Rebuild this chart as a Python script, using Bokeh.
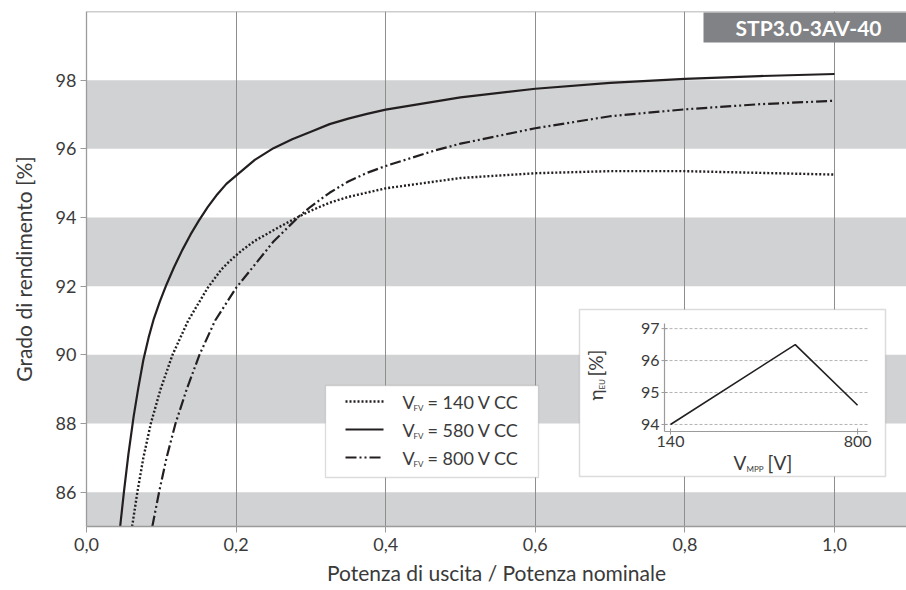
import math
from bokeh.plotting import figure
from bokeh.models import Range1d, FixedTicker, BoxAnnotation, Label, Span
from bokeh.core.properties import value
from bokeh.embed import file_html
from bokeh.resources import INLINE

# ---------------- data ----------------
x_ticks = [0.0, 0.2, 0.4, 0.6, 0.8, 1.0]
x_tick_labels = ["0,0", "0,2", "0,4", "0,6", "0,8", "1,0"]
y_ticks = [86, 88, 90, 92, 94, 96, 98]
y_tick_labels = ["86", "88", "90", "92", "94", "96", "98"]
band_bottoms = [84, 88, 92, 96]
band_tops = [86, 90, 94, 98]

# V_FV = 140 V (dotted)
x_140 = [0.061, 0.068, 0.076, 0.086, 0.099, 0.115, 0.136, 0.162, 0.180, 0.190, 0.200, 0.210, 0.225, 0.250, 0.277, 0.300, 0.325, 0.350, 0.400, 0.500, 0.600, 0.700, 0.800, 0.900, 1.000]
eta_140 = [85.0, 86.0, 87.0, 88.0, 89.0, 90.0, 91.0, 91.95, 92.48, 92.7, 92.9, 93.08, 93.32, 93.63, 93.95, 94.2, 94.43, 94.6, 94.85, 95.15, 95.29, 95.35, 95.35, 95.30, 95.25]

# V_FV = 580 V (solid)
x_580 = [0.045, 0.050, 0.056, 0.063, 0.069, 0.076, 0.083, 0.090, 0.098, 0.107, 0.117, 0.128, 0.139, 0.150, 0.162, 0.175, 0.187, 0.200, 0.225, 0.250, 0.275, 0.300, 0.325, 0.350, 0.375, 0.400, 0.500, 0.600, 0.700, 0.800, 0.900, 1.000]
eta_580 = [85.0, 86.0, 87.1, 88.2, 89.0, 89.85, 90.5, 91.05, 91.55, 92.05, 92.55, 93.05, 93.5, 93.9, 94.3, 94.68, 94.98, 95.22, 95.68, 96.02, 96.28, 96.5, 96.72, 96.88, 97.02, 97.14, 97.5, 97.75, 97.92, 98.04, 98.12, 98.18]

# V_FV = 800 V (dash-dot-dot)
x_800 = [0.088, 0.097, 0.107, 0.119, 0.134, 0.151, 0.172, 0.200, 0.250, 0.285, 0.300, 0.325, 0.350, 0.375, 0.400, 0.467, 0.500, 0.600, 0.700, 0.800, 0.900, 1.000]
eta_800 = [85.0, 86.0, 87.0, 88.0, 89.0, 90.0, 91.0, 91.95, 93.3, 94.05, 94.32, 94.72, 95.05, 95.3, 95.5, 95.96, 96.15, 96.6, 96.95, 97.15, 97.3, 97.4]

legend_values = ["= 140 V CC", "= 580 V CC", "= 800 V CC"]

# inset: European efficiency vs MPP voltage
inset_vmpp = [140, 580, 800]
inset_eta = [94.0, 96.5, 94.6]
inset_y_ticks = [94, 95, 96, 97]
inset_y_tick_labels = ["94", "95", "96", "97"]
inset_x_ticks = [140, 800]
inset_x_tick_labels = ["140", "800"]

title_text = "STP3.0-3AV-40"

# ---------------- layout ----------------
FONT = "Lato"
TXT = "#3a3a3a"
GRAY_AX = "#9b9b9b"
LINE = "#231f20"
W, H = 906, 590
FL, FR, FT, FB = 86, 906, 11, 526   # frame edges in page pixels
X_END = (FR - FL) / 748.0
Y0, Y1 = 85, 100


def dx(px):
    return (px - FL) / (FR - FL) * X_END


def dy(py):
    return Y1 - (py - FT) / (FB - FT) * (Y1 - Y0)


p = figure(width=W, height=H, x_range=Range1d(0, X_END), y_range=Range1d(Y0, Y1),
           output_backend="svg", toolbar_location=None,
           min_border_left=FL, min_border_right=0, min_border_top=FT,
           min_border_bottom=H - FB)
p.outline_line_color = None
p.background_fill_color = "white"
p.border_fill_color = "white"

# axes
for ax in (p.xaxis[0], p.yaxis[0]):
    ax.axis_line_color = GRAY_AX
    ax.axis_line_width = 1.3
    ax.major_tick_line_color = GRAY_AX
    ax.major_tick_out = 6
    ax.major_tick_in = 0
    ax.minor_tick_line_color = None
    ax.major_label_text_font = FONT
    ax.major_label_text_font_size = "18px"
    ax.major_label_text_color = TXT
    ax.axis_label_text_font = FONT
    ax.axis_label_text_font_size = "21px"
    ax.axis_label_text_font_style = "normal"
    ax.axis_label_text_color = TXT

p.xaxis.ticker = FixedTicker(ticks=x_ticks)
p.xaxis.major_label_overrides = dict(zip(x_ticks, x_tick_labels))
p.xaxis.axis_label = "Potenza di uscita / Potenza nominale"
p.xaxis.major_label_standoff = 5
p.xaxis.axis_label_standoff = 6

p.yaxis.ticker = FixedTicker(ticks=y_ticks)
p.yaxis.major_label_overrides = dict(zip(y_ticks, y_tick_labels))
p.yaxis.axis_label = "Grado di rendimento [%]"
p.yaxis.major_label_standoff = 4
p.yaxis.axis_label_standoff = 17

# grid
p.xgrid.ticker = FixedTicker(ticks=x_ticks[1:])
p.xgrid.grid_line_color = "#8e8e8e"
p.xgrid.grid_line_width = 1
p.ygrid.grid_line_color = None

# bands
for b, t in zip(band_bottoms, band_tops):
    p.add_layout(BoxAnnotation(bottom=b, top=t, left=0, right=X_END,
                               fill_color="#d1d2d4", fill_alpha=1,
                               line_color=None, level="image"))

p.add_layout(Span(location=Y1, dimension="width", line_color=GRAY_AX, line_width=1.5))

# curves
styles = [
    (x_140, eta_140, dict(line_width=2.4, line_dash="2 2")),
    (x_580, eta_580, dict(line_width=2.2)),
    (x_800, eta_800, dict(line_width=2.2, line_dash="11 3 2 3 2 3")),
]
for xs, ys, st in styles:
    p.line(xs, ys, line_color=LINE, line_join="round", **st)

# title box
p.add_layout(BoxAnnotation(left=dx(703), right=X_END, top=dy(12), bottom=dy(42),
                           fill_color="#808285", fill_alpha=1, line_color=None,
                           level="annotation"))
p.add_layout(Label(x=dx(808), y=dy(27), text=title_text, text_align="center",
                   text_baseline="middle", text_color="white", text_font=FONT,
                   text_font_style="bold", text_font_size="21px", level="overlay"))

# legend
p.add_layout(BoxAnnotation(left=dx(325), right=dx(538), top=dy(385), bottom=dy(477),
                           fill_color="white", fill_alpha=1, line_color="#8a8a8a",
                           line_width=1.3, level="annotation"))
rows_py = [401, 429, 457]
for (xs, ys, st), ry in zip(styles, rows_py):
    p.line([dx(345), dx(383)], [dy(ry), dy(ry)], line_color=LINE, level="overlay", **st)
n = len(rows_py)
p.text(x=[dx(402)] * n, y=[dy(r) for r in rows_py], text=["V"] * n,
       text_font=value(FONT), text_font_size="18px", text_color=TXT,
       text_baseline="middle", text_align="left", level="overlay")
p.text(x=[dx(413)] * n, y=[dy(r + 6) for r in rows_py], text=["FV"] * n,
       text_font=value(FONT), text_font_size="8px", text_color=TXT,
       text_baseline="middle", text_align="left", level="overlay")
p.text(x=[dx(427)] * n, y=[dy(r) for r in rows_py], text=legend_values,
       text_font=value(FONT), text_font_size="18px", text_color=TXT,
       text_baseline="middle", text_align="left", level="overlay")

# inset
p.add_layout(BoxAnnotation(left=dx(579), right=dx(885), top=dy(309), bottom=dy(476),
                           fill_color="white", fill_alpha=1, line_color="#8a8a8a",
                           line_width=1.5, level="annotation"))
ix0, ix1 = 118.8, 835.0
iy0, iy1 = 93.78, 97.16
sub = p.subplot(x_source=Range1d(ix0, ix1), y_source=Range1d(iy0, iy1),
                x_target=Range1d(dx(664), dx(867)), y_target=Range1d(dy(431), dy(323)))
ni = len(inset_y_ticks)
sub.segment(x0=[ix0] * ni, x1=[ix1] * ni, y0=inset_y_ticks, y1=inset_y_ticks,
            line_color="#a0a0a0", line_width=0.8, line_dash="3 2", level="overlay")
sub.line([ix0, ix0], [iy0, iy1], line_color=GRAY_AX, line_width=1.2, level="overlay")
sub.line([ix0, ix1], [iy0, iy0], line_color=GRAY_AX, line_width=1.2, level="overlay")
sub.scatter(x=[ix0] * ni, y=inset_y_ticks, marker="dash", size=6,
            line_color=GRAY_AX, level="overlay")
sub.scatter(x=inset_x_ticks, y=[iy0] * len(inset_x_ticks), marker="dash", angle=math.pi / 2,
            size=6, line_color=GRAY_AX, level="overlay")
sub.line(inset_vmpp, inset_eta, line_color=LINE, line_width=1.6, level="overlay")
sub.text(x=[ix0] * ni, y=inset_y_ticks, text=inset_y_tick_labels, x_offset=-5,
         text_font=value(FONT), text_font_size="16px", text_color=TXT,
         text_align="right", text_baseline="middle", level="overlay")
sub.text(x=inset_x_ticks, y=[iy0] * len(inset_x_ticks), text=inset_x_tick_labels, y_offset=4,
         text_font=value(FONT), text_font_size="16px", text_color=TXT,
         text_align="center", text_baseline="top", level="overlay")

# inset axis labels (with subscripts)
p.text(x=[dx(733), dx(767)], y=[dy(462), dy(462)], text=["V", "[V]"],
       text_font=value(FONT), text_font_size="19px", text_color=TXT,
       text_align="left", text_baseline="middle", level="overlay")
p.text(x=[dx(746)], y=[dy(468)], text=["MPP"],
       text_font=value(FONT), text_font_size="8px", text_color=TXT,
       text_align="left", text_baseline="middle", level="overlay")
p.text(x=[dx(595), dx(595)], y=[dy(400), dy(376)], text=["η", "[%]"], angle=math.pi / 2,
       text_font=value(FONT), text_font_size="19px", text_color=TXT,
       text_align="left", text_baseline="middle", level="overlay")
p.text(x=[dx(601)], y=[dy(389)], text=["EU"], angle=math.pi / 2,
       text_font=value(FONT), text_font_size="8px", text_color=TXT,
       text_align="left", text_baseline="middle", level="overlay")

open("out.html", "w").write(file_html(p, INLINE))
